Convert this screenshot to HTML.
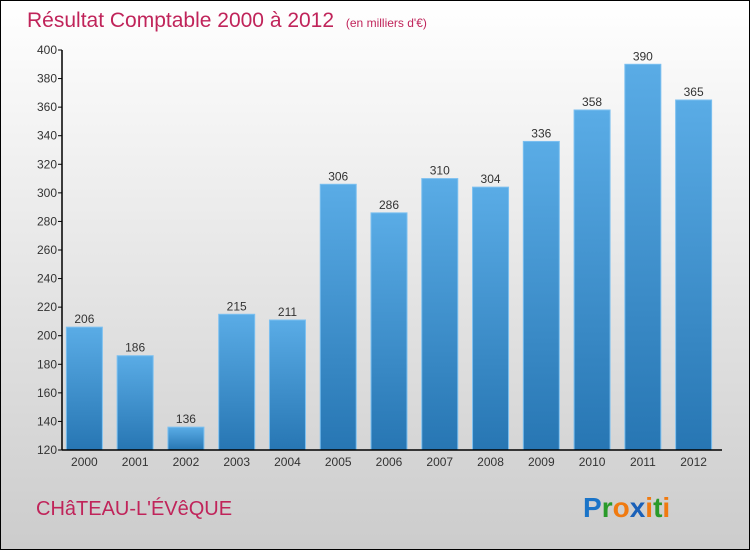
<!DOCTYPE html>
<html><head><meta charset="utf-8"><style>
body{margin:0;width:750px;height:550px;overflow:hidden}
svg{display:block}
</style></head><body>
<svg width="750" height="550" xmlns="http://www.w3.org/2000/svg" font-family="Liberation Sans, sans-serif">
<defs>
<linearGradient id="bg" x1="0" y1="0" x2="0" y2="1"><stop offset="0" stop-color="#ffffff"/><stop offset="1" stop-color="#cccccc"/></linearGradient>
<linearGradient id="bar" x1="0" y1="0" x2="0" y2="1"><stop offset="0" stop-color="#5aace6"/><stop offset="1" stop-color="#2776b3"/></linearGradient>
</defs>
<rect x="0.5" y="0.5" width="749" height="549" fill="url(#bg)" stroke="#000"/>
<text x="27" y="27" font-size="21" fill="#c0245a">Résultat Comptable 2000 à 2012 <tspan font-size="12" dx="6">(en milliers d'€)</tspan></text>
<g id="plot"></g>
<text x="36" y="515" font-size="20" fill="#c0245a">CHâTEAU-L'ÉVêQUE</text>
<g font-size="28" font-weight="bold" font-family="Liberation Sans, sans-serif">
<text x="583" y="517"><tspan fill="#1a74c8">P</tspan><tspan fill="#2a9a2a">r</tspan><tspan fill="#f07a10">o</tspan><tspan fill="#1a60b8">x</tspan><tspan fill="#f07a10">i</tspan><tspan fill="#2a9a2a">t</tspan><tspan fill="#f07a10">i</tspan></text>
</g>
</svg>
<script>
const categories=["2000","2001","2002","2003","2004","2005","2006","2007","2008","2009","2010","2011","2012"];
const values=[206,186,136,215,211,306,286,310,304,336,358,390,365];
const yTicks=[120,140,160,180,200,220,240,260,280,300,320,340,360,380,400];
const NS="http://www.w3.org/2000/svg";
const g=document.getElementById('plot');
const x0=62,x1=722,yTop=50,yBot=450,yMin=120,yMax=400;
const y=v=>yBot-(v-yMin)/(yMax-yMin)*(yBot-yTop);
const step=(x1-x0)/categories.length;
const xc=i=>x0+step*(i+0.5)-3;
function mk(t,a){const e=document.createElementNS(NS,t);for(const k in a)e.setAttribute(k,a[k]);g.appendChild(e);return e;}
yTicks.forEach(t=>{
 const l=mk('line',{x1:x0-4,x2:x0,y1:y(t),y2:y(t),stroke:'#000'});
 
 
 const tx=mk('text',{x:x0-5,y:y(t)+4,'font-size':12,'text-anchor':'end',fill:'#333'});
 tx.textContent=t;
 
 
});
values.forEach((v,i)=>{
 const r=mk('rect',{x:xc(i)-18,y:y(v),width:36,height:yBot-y(v),fill:'url(#bar)',stroke:'#7cc0f0','stroke-width':1});
 
 
 const lb=mk('text',{x:xc(i),y:y(v)-4,'font-size':12,'text-anchor':'middle',fill:'#333'});
 lb.textContent=v;
 
 
 const cl=mk('text',{x:xc(i),y:yBot+16,'font-size':12,'text-anchor':'middle',fill:'#333'});
 cl.textContent=categories[i];
 
 
});
const ya=mk('line',{x1:x0,x2:x0,y1:yTop,y2:yBot,stroke:'#000','stroke-width':1.5});


const xa=mk('line',{x1:x0,x2:x1,y1:yBot,y2:yBot,stroke:'#000','stroke-width':1.5});


</script>
</body></html>
